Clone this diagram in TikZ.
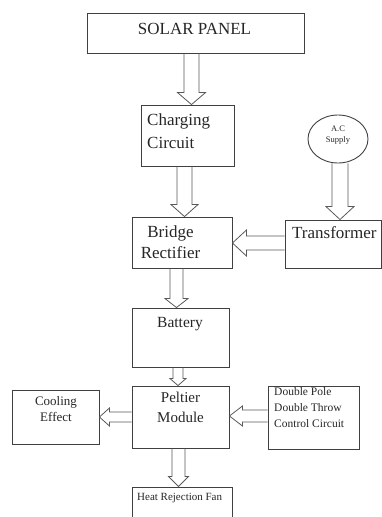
\documentclass[tikz,border=0pt]{standalone}
\usepackage{fontspec}
\setmainfont{Liberation Serif}
\usetikzlibrary{shapes.geometric,calc}

\tikzset{
  box/.style 2 args={draw=black!75, line width=.9pt, minimum width=#1,
    minimum height=#2, inner sep=0pt},
  txt/.style={inner sep=0pt, text=black!85},
  blockarr/.style={draw=black!65, line width=.8pt, line join=miter},
}
% hollow block arrow from #1 to #2: half shaft #3, half head #4, head length #5
\newcommand\barrow[5]{%
  \draw[blockarr] let \p1=(#1), \p2=(#2),
      \n1={veclen(\x2-\x1,\y2-\y1)}, \n2={(\x2-\x1)/\n1}, \n3={(\y2-\y1)/\n1}
    in ({\x1-\n3*#3},{\y1+\n2*#3})
    -- ({\x2-\n2*#5-\n3*#3},{\y2-\n3*#5+\n2*#3})
    -- ({\x2-\n2*#5-\n3*#4},{\y2-\n3*#5+\n2*#4})
    -- (\p2)
    -- ({\x2-\n2*#5+\n3*#4},{\y2-\n3*#5-\n2*#4})
    -- ({\x2-\n2*#5+\n3*#3},{\y2-\n3*#5-\n2*#3})
    -- ({\x1+\n3*#3},{\y1-\n2*#3});}

\begin{document}
\begin{tikzpicture}[x=1pt,y=-1pt]
  \useasboundingbox (0,0) rectangle (382,517);
  \clip (0,0) rectangle (382,517);
  %
  \node[box={217pt}{40pt}] (solar) at (195.5,33) {};
  \node[box={93pt}{61pt}] (charge) at (187.5,135.5) {};
  \node[ellipse, draw=black!75, line width=.9pt, minimum width=60pt,
        minimum height=48pt] (ac) at (338,139) {};
  \node[box={100pt}{51pt}] (bridge) at (182,242.5) {};
  \node[box={96pt}{48pt}] (trans) at (333,244) {};
  \node[box={97pt}{59pt}] (battery) at (180.5,337.5) {};
  \node[box={97pt}{62pt}] (peltier) at (180.5,417) {};
  \node[box={87pt}{54pt}] (cool) at (55.5,417) {};
  \node[box={91pt}{63pt}] (dpdt) at (313.5,417.5) {};
  \node[box={100pt}{48pt}] (heat) at (182,511) {};
  %
  \node[txt, anchor=base, font=\fontsize{17}{20}\selectfont] (solar-t)
    at (194.5,34) {SOLAR PANEL};
  \node[txt, anchor=west, align=left, font=\fontsize{17}{23}\selectfont] (charge-t)
    at (147,130.7) {Charging\\Circuit};
  \node[txt, align=center, font=\fontsize{8.5}{11}\selectfont] (ac-t)
    at (338,134.6) {A.C\\Supply};
  \node[txt, align=center, font=\fontsize{17}{21}\selectfont] (bridge-t)
    at (170.5,241.7) {Bridge\\Rectifier};
  \node[txt, anchor=base west, font=\fontsize{17}{20}\selectfont] (trans-t)
    at (292,238) {Transformer};
  \node[txt, anchor=base, font=\fontsize{15.5}{18}\selectfont] (battery-t)
    at (180,327) {Battery};
  \node[txt, align=center, font=\fontsize{15}{20}\selectfont] (peltier-t)
    at (180.5,407.8) {Peltier\\Module};
  \node[txt, align=center, font=\fontsize{13}{16}\selectfont] (cool-t)
    at (56,409.5) {Cooling\\Effect};
  \node[txt, anchor=west, align=left, font=\fontsize{11.5}{16}\selectfont] (dpdt-t)
    at (274,408) {Double Pole\\Double Throw\\Control Circuit};
  \node[txt, anchor=base west, font=\fontsize{11}{13}\selectfont] (heat-t)
    at (137,500) {Heat Rejection Fan};
  %
  \barrow{[xshift=-4pt]solar.south}{[xshift=-4pt]solar.south |- charge.north}{7.5}{14}{12}
  \barrow{[xshift=-3pt]charge.south}{[xshift=-3pt]charge.south |- bridge.north}{7.5}{13.5}{12}
  \barrow{[xshift=2pt]ac.south}{[xshift=2pt]ac.south |- trans.north}{8}{14}{13}
  \barrow{[yshift=1pt]trans.west}{[yshift=1pt]trans.west -| bridge.east}{7}{13}{14}
  \barrow{[xshift=-5.5pt]bridge.south}{[xshift=-5.5pt]bridge.south |- battery.north}{6.5}{11.5}{9}
  \barrow{[xshift=-2.5pt]battery.south}{[xshift=-2.5pt]battery.south |- peltier.north}{5}{8}{7}
  \barrow{peltier.west}{peltier.west -| cool.east}{5}{9}{10}
  \barrow{[yshift=1.5pt]dpdt.west}{[yshift=1.5pt]dpdt.west -| peltier.east}{6}{10}{13}
  \barrow{[xshift=-2pt]peltier.south}{[xshift=-2pt]peltier.south |- heat.north}{6.5}{10}{10}
\end{tikzpicture}
\end{document}
